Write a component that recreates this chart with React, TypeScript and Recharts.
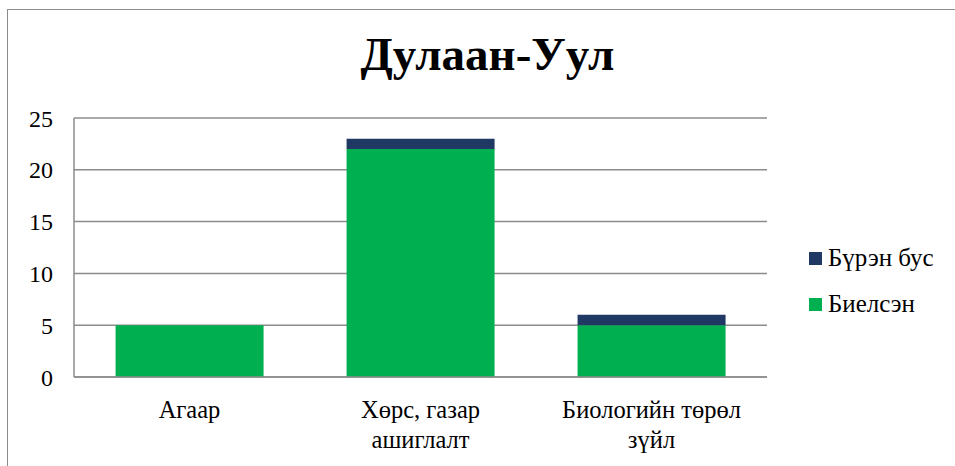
import { Bar, BarChart, CartesianGrid, XAxis, YAxis } from "recharts";

const categories = ["Агаар", "Хөрс, газар ашиглалт", "Биологийн төрөл зүйл"];
const categoryLines = [["Агаар"], ["Хөрс, газар", "ашиглалт"], ["Биологийн төрөл", "зүйл"]];
const done = [5, 22, 5]; // Биелсэн
const notDone = [0, 1, 1]; // Бүрэн бус
const yTicks = [0, 5, 10, 15, 20, 25];

const data = categories.map((name, i) => ({
  name,
  done: done[i],
  notDone: notDone[i],
}));

const FONT = "'Liberation Serif', 'Times New Roman', serif";
const GREEN = "#00B050";
const NAVY = "#1F3864";
const GRID = "#8C8C8C";

const CategoryTick = ({ x, y, payload }: any) => {
  const lines = categoryLines[payload.index] || [payload.value];
  return (
    <text x={x} y={y} textAnchor="middle" fontFamily={FONT} fontSize={24.5} fill="#000">
      {lines.map((l, i) => (
        <tspan key={i} x={x} dy={i === 0 ? 33 : 30}>
          {l}
        </tspan>
      ))}
    </text>
  );
};

const legendItems = [
  { label: "Бүрэн бус", color: NAVY },
  { label: "Биелсэн", color: GREEN },
];

export default function App() {
  return (
    <div style={{ position: "absolute", left: 0, top: 0, width: 955, height: 466, overflow: "hidden", background: "#fff" }}>
      <div
        style={{
          position: "absolute",
          left: 7,
          top: 9,
          width: 1000,
          height: 600,
          border: "1.5px solid #8C8C8C",
        }}
      />
      <div
        style={{
          position: "absolute",
          left: 0,
          top: 27,
          width: 955,
          textAlign: "center",
          fontFamily: FONT,
          fontWeight: "bold",
          fontSize: 47,
          paddingLeft: 10,
        }}
      >
        Дулаан-Уул
      </div>
      <div style={{ position: "absolute", left: 0, top: 0 }}>
        <BarChart
          width={955}
          height={466}
          data={data}
          barCategoryGap="18%"
          margin={{ top: 118, right: 188, bottom: 59, left: 0 }}
        >
          <CartesianGrid vertical={false} stroke={GRID} strokeWidth={1.5} />
          <XAxis
            dataKey="name"
            tick={<CategoryTick />}
            tickLine={false}
            axisLine={{ stroke: GRID, strokeWidth: 1.5 }}
            interval={0}
          />
          <YAxis
            domain={[0, 25]}
            ticks={yTicks}
            width={74}
            tickLine={false}
            axisLine={{ stroke: GRID, strokeWidth: 1.5 }}
            tick={{ fontFamily: FONT, fontSize: 24, fill: "#000" }}
            tickMargin={15}
          />
          <Bar dataKey="done" stackId="a" fill={GREEN} isAnimationActive={false} />
          <Bar dataKey="notDone" stackId="a" fill={NAVY} isAnimationActive={false} />
        </BarChart>
      </div>
      <div style={{ position: "absolute", left: 809, top: 235, fontFamily: FONT, fontSize: 25 }}>
        {legendItems.map((it) => (
          <div key={it.label} style={{ display: "flex", alignItems: "center", height: 46 }}>
            <span style={{ width: 13, height: 13, background: it.color, display: "inline-block", marginRight: 6 }} />
            <span>{it.label}</span>
          </div>
        ))}
      </div>
    </div>
  );
}
